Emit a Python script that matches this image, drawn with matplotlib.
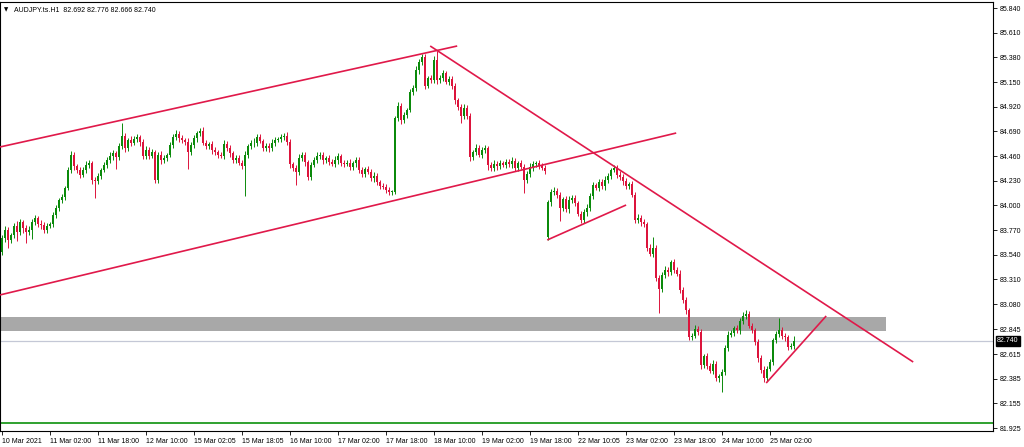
import numpy as np
import matplotlib
matplotlib.use('Agg')
import matplotlib.pyplot as plt
import matplotlib.transforms as mtransforms

plt.rcParams['font.family'] = ['Liberation Sans', 'DejaVu Sans']

# hourly closes AUDJPY, 10 Mar 10:00 .. 25 Mar 10:00
closes = [
    83.697, 83.771, 83.678, 83.725, 83.809, 83.753, 83.846, 83.790, 83.753, 83.771,
    83.846, 83.883, 83.827, 83.818, 83.771, 83.809, 83.827, 83.911, 83.976, 84.051,
    84.079, 84.163, 84.331, 84.470, 84.368, 84.331, 84.284, 84.331, 84.377, 84.396,
    84.237, 84.228, 84.275, 84.331, 84.377, 84.424, 84.461, 84.489, 84.452, 84.554,
    84.647, 84.536, 84.610, 84.582, 84.620, 84.638, 84.592, 84.461, 84.517, 84.461,
    84.498, 84.237, 84.470, 84.424, 84.442, 84.470, 84.564, 84.638, 84.666, 84.629,
    84.610, 84.592, 84.498, 84.564, 84.629, 84.675, 84.694, 84.582, 84.554, 84.573,
    84.517, 84.498, 84.470, 84.461, 84.573, 84.536, 84.489, 84.424, 84.442, 84.396,
    84.368, 84.470, 84.554, 84.582, 84.582, 84.638, 84.601, 84.536, 84.554, 84.536,
    84.582, 84.610, 84.620, 84.638, 84.647, 84.592, 84.387, 84.349, 84.312, 84.442,
    84.470, 84.405, 84.265, 84.377, 84.424, 84.461, 84.470, 84.424, 84.442, 84.405,
    84.387, 84.424, 84.461, 84.396, 84.387, 84.396, 84.359, 84.396, 84.424, 84.331,
    84.293, 84.340, 84.312, 84.256, 84.275, 84.219, 84.181, 84.172, 84.144, 84.126,
    84.126, 84.815, 84.927, 84.797, 84.843, 84.890, 85.058, 85.095, 85.263, 85.337,
    85.384, 85.113, 85.188, 85.169, 85.356, 85.169, 85.188, 85.235, 85.151, 85.179,
    85.113, 84.983, 84.918, 84.834, 84.908, 84.834, 84.452, 84.498, 84.536, 84.470,
    84.517, 84.536, 84.377, 84.349, 84.387, 84.368, 84.396, 84.377, 84.405, 84.387,
    84.414, 84.349, 84.396, 84.359, 84.237, 84.293, 84.359, 84.387, 84.396, 84.368,
    84.349, 84.321, 84.032, 84.126, 84.135, 84.098, 83.976, 84.060, 83.967, 84.051,
    84.070, 84.023, 83.921, 83.865, 83.939, 83.976, 84.088, 84.191, 84.163, 84.219,
    84.181, 84.237, 84.275, 84.331, 84.349, 84.284, 84.265, 84.228, 84.181, 84.200,
    84.098, 83.865, 83.883, 83.846, 83.827, 83.604, 83.548, 83.604, 83.324, 83.222,
    83.352, 83.399, 83.380, 83.473, 83.399, 83.361, 83.212, 83.119, 83.026, 82.774,
    82.783, 82.849, 82.821, 82.513, 82.597, 82.504, 82.457, 82.523, 82.392, 82.411,
    82.448, 82.672, 82.793, 82.811, 82.858, 82.839, 82.923, 82.970, 82.989, 82.877,
    82.839, 82.728, 82.578, 82.467, 82.392, 82.476, 82.541, 82.746, 82.802, 82.839,
    82.783, 82.774, 82.680, 82.692, 82.740]

first_open = 83.57
gap_opens = {182: 83.706}   # monday 22 Mar gap

# wicks in pips (0.01) above / below the body
wick_up = [
    3, 4, 3, 2, 3, 5, 3, 2, 3, 4, 3, 3, 2, 4, 3, 3, 2, 3, 3, 2,
    3, 2, 3, 4, 3, 2, 3, 3, 4, 3, 2, 3, 3, 2, 3, 3, 4, 3, 2, 3,
    12, 3, 2, 4, 3, 3, 2, 3, 4, 3, 3, 2, 3, 4, 3, 2, 3, 3, 4, 3,
    3, 2, 4, 3, 3, 2, 3, 4, 3, 2, 3, 3, 2, 3, 4, 3, 3, 2, 3, 3,
    3, 4, 2, 3, 5, 3, 3, 2, 3, 3, 4, 3, 2, 3, 3, 4, 3, 2, 3, 4,
    3, 3, 2, 3, 3, 4, 3, 3, 2, 3, 3, 4, 3, 2, 3, 3, 4, 2, 3, 3,
    3, 2, 3, 3, 4, 3, 2, 3, 3, 3, 2, 2, 4, 3, 3, 2, 3, 3, 4, 3,
    3, 3, 2, 3, 4, 8, 3, 3, 2, 3, 3, 3, 2, 3, 4, 3, 3, 2, 4, 3,
    3, 3, 2, 3, 4, 3, 3, 2, 3, 3, 4, 3, 2, 3, 3, 3, 4, 3, 2, 3,
    3, 3, 2, 3, 4, 3, 3, 2, 3, 4, 3, 3, 2, 3, 3, 4, 3, 3, 2, 3,
    3, 4, 3, 2, 3, 3, 4, 3, 3, 2, 3, 3, 4, 3, 3, 2, 4, 10, 3, 3,
    3, 4, 3, 2, 3, 3, 4, 3, 3, 2, 3, 4, 3, 3, 2, 3, 3, 4, 3, 2,
    3, 3, 4, 3, 2, 3, 3, 4, 4, 3, 3, 2, 3, 3, 4, 3, 3, 2, 3, 11,
    3, 3, 2, 3, 4]
wick_dn = [
    3, 4, 7, 3, 3, 8, 3, 5, 10, 3, 8, 3, 3, 4, 3, 3, 2, 3, 3, 3,
    3, 3, 2, 3, 4, 3, 3, 2, 3, 3, 4, 16, 3, 3, 2, 3, 3, 4, 11, 3,
    3, 4, 3, 3, 2, 3, 4, 3, 3, 3, 2, 3, 3, 4, 3, 3, 2, 3, 3, 4,
    3, 3, 16, 3, 3, 4, 3, 2, 3, 3, 4, 3, 3, 2, 3, 3, 4, 3, 3, 2,
    3, 28, 3, 3, 4, 3, 2, 3, 3, 4, 3, 3, 2, 3, 3, 3, 4, 3, 12, 3,
    3, 4, 3, 3, 2, 3, 3, 4, 3, 3, 2, 3, 4, 3, 3, 2, 3, 3, 4, 3,
    3, 3, 2, 3, 4, 3, 3, 2, 3, 3, 3, 2, 3, 4, 3, 3, 2, 3, 3, 4,
    3, 3, 2, 3, 3, 4, 3, 3, 2, 3, 3, 4, 3, 7, 3, 3, 4, 3, 3, 2,
    3, 3, 5, 3, 3, 4, 3, 2, 3, 3, 4, 3, 3, 2, 12, 3, 3, 4, 3, 3,
    2, 3, 3, 4, 3, 3, 12, 3, 3, 4, 3, 3, 2, 3, 3, 4, 3, 3, 2, 3,
    3, 4, 3, 3, 2, 3, 3, 4, 3, 3, 2, 3, 3, 4, 3, 3, 2, 3, 3, 22,
    3, 3, 4, 3, 3, 2, 3, 3, 4, 3, 3, 2, 3, 4, 3, 3, 2, 3, 3, 4,
    15, 3, 3, 2, 3, 3, 4, 3, 3, 2, 3, 3, 4, 3, 4, 3, 2, 3, 3, 3,
    3, 4, 3, 2, 3]

xlabels = ["10 Mar 2021", "11 Mar 02:00", "11 Mar 18:00", "12 Mar 10:00", "15 Mar 02:05",
           "15 Mar 18:05", "16 Mar 10:00", "17 Mar 02:00", "17 Mar 18:00", "18 Mar 10:00",
           "19 Mar 02:00", "19 Mar 18:00", "22 Mar 10:05", "23 Mar 02:00", "23 Mar 18:00",
           "24 Mar 10:00", "25 Mar 02:00"]
yticks = [85.840, 85.610, 85.380, 85.150, 84.920, 84.690, 84.460, 84.230, 84.000,
          83.770, 83.540, 83.310, 83.080, 82.845, 82.615, 82.385, 82.155, 81.925]

# drawn objects (bar index, price)
trendlines = [
    ((-0.7, 84.545), (151.7, 85.486)),   # channel top
    ((-0.7, 83.166), (224.7, 84.675)),   # channel bottom
    ((142.7, 85.486), (303.7, 82.541)),  # falling trendline
    ((181.7, 83.678), (208.0, 84.004)),
    ((254.7, 82.345), (274.7, 82.970)),
]
zone = (82.830, 82.961, 294.7)
last_price = 82.740
green_level = 81.973

n = len(closes)
assert len(wick_up) == n and len(wick_dn) == n
c = np.array(closes)
o = np.concatenate([[first_open], c[:-1]])
for k, v in gap_opens.items():
    o[k] = v
top = np.maximum(o, c)
bot = np.minimum(o, c)
hi = top + np.array(wick_up) * 0.01
lo = bot - np.array(wick_dn) * 0.01
x = np.arange(n)

bull = '#0b8a0b'
bear = '#dc143c'

fig = plt.figure(figsize=(10.24, 4.47), dpi=100)
ax = fig.add_axes([0.0, 16 / 447, 993 / 1024, 429 / 447])
ax.set_xlim(-0.7, 330.3)
ax.set_ylim(81.898, 85.896)

ax.fill_between([-0.7, zone[2]], zone[0], zone[1], color='#a8a8a8', lw=0, zorder=1)
ax.axhline(last_price, color='#c4c8d6', lw=0.9, zorder=1)
ax.axhline(green_level, color='#1f9a1f', lw=1.3, zorder=1)

up = c >= o
cols = np.where(up, bull, bear)
ax.vlines(x, lo, hi, colors=cols, lw=0.7, zorder=2)
ax.bar(x, np.maximum(top - bot, 0.004), bottom=bot, width=0.62, color=cols, lw=0, zorder=3)

for (x0, y0), (x1, y1) in trendlines:
    ax.plot([x0, x1], [y0, y1], color='#e0194a', lw=1.2, zorder=4, solid_capstyle='butt')

ax.yaxis.tick_right()
ax.set_yticks(yticks)
ax.set_yticklabels(['%.3f' % v for v in yticks])
ax.tick_params(axis='y', direction='out', length=3, width=0.6, labelsize=5, pad=2)
ax.set_xticks(np.arange(0, 16 * len(xlabels), 16))
ax.set_xticklabels(xlabels)
ax.tick_params(axis='x', direction='out', length=3, width=0.6, labelsize=5, pad=2)
for lab in ax.get_xticklabels():
    lab.set_horizontalalignment('left')
for s in ax.spines.values():
    s.set_linewidth(0.8)

trans = mtransforms.blended_transform_factory(ax.transAxes, ax.transData)
ax.text(1.004, last_price, '%.3f' % last_price, transform=trans, fontsize=5, color='white',
        va='center', ha='left', bbox=dict(boxstyle='square,pad=0.2', fc='black', ec='black'))

fig.text(4 / 1024, 1 - 10 / 447, u'\u25bc', fontsize=4, va='center', ha='left', family='DejaVu Sans')
fig.text(14 / 1024, 1 - 10 / 447, 'AUDJPY.ts.H1  82.692 82.776 82.666 82.740', fontsize=5,
         va='center', ha='left')

fig.savefig('out.png', dpi=100)
